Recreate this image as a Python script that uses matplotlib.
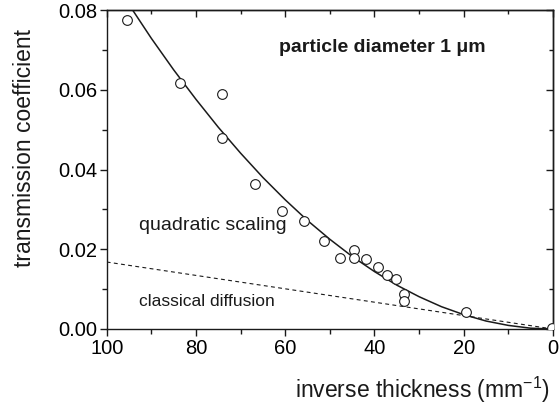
import matplotlib
matplotlib.use("Agg")
import matplotlib.pyplot as plt
from matplotlib.ticker import MultipleLocator, FormatStrFormatter

plt.rcParams['font.family'] = ['Liberation Sans', 'DejaVu Sans']
plt.rcParams['mathtext.fontset'] = 'custom'
plt.rcParams['mathtext.rm'] = 'Liberation Sans'

# measured data points (inverse thickness in mm^-1, transmission coefficient)
x_data = [95.5, 83.5, 74.1, 74.1, 66.8, 60.7, 55.7, 51.3, 47.7, 44.5, 44.5,
          41.8, 39.2, 37.1, 35.1, 33.4, 33.4, 19.6, 0.3]
y_data = [0.0775, 0.0616, 0.0589, 0.0479, 0.0364, 0.0296, 0.0272, 0.0220,
          0.0179, 0.0199, 0.0178, 0.0175, 0.0156, 0.0135, 0.0125, 0.0088,
          0.0070, 0.0042, 0.0002]

# quadratic scaling curve
x_quad = [94.2, 90, 85, 80, 75, 70, 65, 60, 55, 50, 45, 40, 35, 30, 25, 20,
          15, 10, 5, 0]
y_quad = [0.0800, 0.0729, 0.0650, 0.0576, 0.0506, 0.0441, 0.0380, 0.0324,
          0.0272, 0.0225, 0.0182, 0.0144, 0.0110, 0.0081, 0.0056, 0.0036,
          0.0020, 0.0009, 0.0002, 0.0]

# classical diffusion line
x_lin = [100, 0]
y_lin = [0.0168, 0.0]

x_major = [0, 20, 40, 60, 80, 100]
y_major = [0.00, 0.02, 0.04, 0.06, 0.08]

fig = plt.figure(figsize=(5.59, 4.07), dpi=100)
ax = fig.add_axes([106.7 / 559, 78 / 407, (553 - 106.7) / 559, (329 - 10) / 407])

ax.plot(x_quad, y_quad, color='#1a1a1a', lw=1.1, zorder=2)
ax.plot(x_lin, y_lin, color='#1a1a1a', lw=0.8, ls=(0, (3.5, 3)), zorder=2)
ax.plot(x_data, y_data, ls='none', marker='o', ms=7, mfc='white',
        mec='#1a1a1a', mew=0.8, zorder=3, clip_on=True)

ax.set_xlim(100, 0)
ax.set_ylim(0, 0.08)
ax.set_xticks(x_major)
ax.set_yticks(y_major)
ax.xaxis.set_minor_locator(MultipleLocator(10))
ax.yaxis.set_minor_locator(MultipleLocator(0.01))
ax.yaxis.set_major_formatter(FormatStrFormatter('%.2f'))

for s in ax.spines.values():
    s.set_linewidth(1.0)
    s.set_color('#1a1a1a')

ax.tick_params(which='both', direction='out', top=False, right=False,
               labelsize=14.5, color='#1a1a1a', width=1.0, pad=2)
ax.tick_params(which='major', length=5)
ax.tick_params(which='minor', length=3.5)

secx = ax.secondary_xaxis('top')
secx.set_xticks(x_major)
secx.xaxis.set_minor_locator(MultipleLocator(10))
secx.tick_params(which='both', direction='in', labeltop=False, width=1.0,
                 color='#1a1a1a')
secx.tick_params(which='major', length=5)
secx.tick_params(which='minor', length=3)
secx.spines['top'].set_linewidth(1.0)

secy = ax.secondary_yaxis('right')
secy.set_yticks(y_major)
secy.yaxis.set_minor_locator(MultipleLocator(0.01))
secy.tick_params(which='both', direction='in', labelright=False, width=1.0,
                 color='#1a1a1a')
secy.tick_params(which='major', length=5)
secy.tick_params(which='minor', length=3)
secy.spines['right'].set_linewidth(1.0)

ax.set_xlabel(r'inverse thickness (mm$^{\mathregular{-1}}$)', fontsize=16.5,
              color='#1a1a1a', ha='right', va='center')
ax.xaxis.set_label_coords(0.993, -0.19)
ax.set_ylabel('transmission coefficient', fontsize=16.5, color='#1a1a1a')
ax.yaxis.set_label_coords(-0.158, 0.567)

ax.text(0.617, 0.884, 'particle diameter 1 μm', transform=ax.transAxes,
        fontsize=14, fontweight='bold', ha='center', va='center',
        color='#1a1a1a')
ax.text(0.072, 0.326, 'quadratic scaling', transform=ax.transAxes,
        fontsize=14, ha='left', va='center', color='#1a1a1a')
ax.text(0.072, 0.085, 'classical diffusion', transform=ax.transAxes,
        fontsize=12.5, ha='left', va='center', color='#1a1a1a')

fig.savefig('out.png', dpi=100)
